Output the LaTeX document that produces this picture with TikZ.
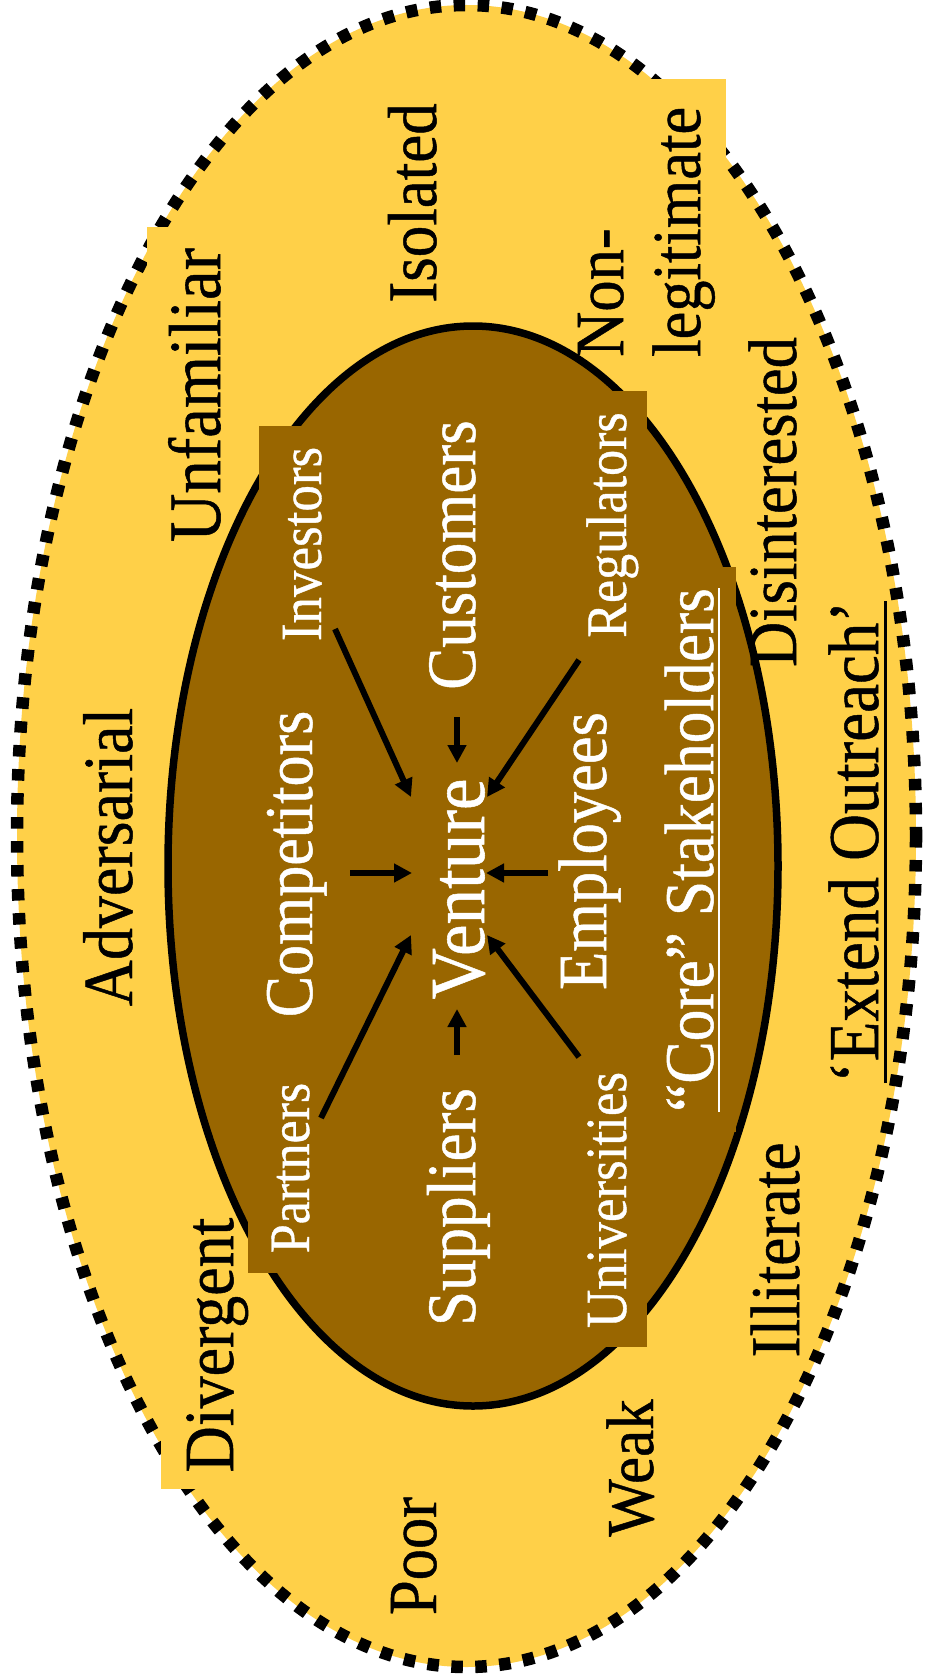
\documentclass[tikz,border=0pt]{standalone}
\usepackage{fontspec}
\setmainfont{Liberation Serif}[FakeBold=0.7]
\usetikzlibrary{arrows.meta}
\definecolor{goldfill}{RGB}{255,208,72}
\definecolor{brownfill}{RGB}{153,102,0}
\begin{document}
\begin{tikzpicture}[x=1pt,y=-1pt,
  lbl/.style={rotate=90,yscale=1.1,inner sep=0pt,anchor=base},
  sz/.style={font=\fontsize{#1}{#1}\selectfont},
  dark/.style={text=black},
  light/.style={text=white},
  pointer/.style={line width=6pt,-{Triangle[length=18pt,width=18pt]}},
]
\useasboundingbox (0,0) rectangle (931,1680);
\fill[white] (0,0) rectangle (931,1680);
% outer "extended outreach" ellipse
\path[fill=goldfill,draw=black,line width=12.5pt,dash pattern=on 11.5pt off 12.5pt]
  (466.5,836) ellipse [x radius=449.5, y radius=831];
% yellow patches behind outer labels
\fill[goldfill] (147,227) rectangle (245,560);
\fill[goldfill] (570,79) rectangle (726,365);
\fill[goldfill] (161,1200) rectangle (250,1489);
% inner "core" ellipse
\path[fill=brownfill,draw=black,line width=7.5pt]
  (473,866) ellipse [x radius=305, y radius=540];
% brown patches behind inner labels
\fill[brownfill] (259,426) rectangle (340,660);
\fill[brownfill] (575,391) rectangle (647,655);
\fill[brownfill] (655,567) rectangle (736,1132);
\fill[brownfill] (248,1060) rectangle (330,1273);
\fill[brownfill] (575,1060) rectangle (647,1347);
% outer labels
\node[lbl,sz=64,dark] (adv) at (132,857) {Adversarial};
\node[lbl,sz=67,dark] (unf) at (220,395) {Unfamiliar};
\node[lbl,sz=63,dark] (iso) at (436,203) {Isolated};
\node[lbl,sz=62.5,dark,anchor=base west] (non) at (623,357) {Non-};
\node[lbl,sz=62.5,dark,anchor=base west] (legit) at (700,357) {legitimate};
\node[lbl,sz=62.5,dark] (dis) at (796,502) {Disinterested};
\node[lbl,sz=65,dark] (ext) at (878,842) {‘Extend Outreach’};
\node[lbl,sz=63.5,dark] (ill) at (799,1250) {Illiterate};
\node[lbl,sz=61,dark] (weak) at (653,1468) {Weak};
\node[lbl,sz=62.5,dark] (poor) at (436,1556) {Poor};
\node[lbl,sz=64,dark] (div) at (233,1345) {Divergent};
\draw[line width=3pt] ([xshift=7pt]ext.base west) -- ([xshift=7pt]ext.base east);
% inner labels
\node[lbl,sz=62,light] (comp) at (312,864) {Competitors};
\node[lbl,sz=53,light] (inv) at (321,544) {Investors};
\node[lbl,sz=52,light] (part) at (309,1168) {Partners};
\node[lbl,sz=71,light] (ven) at (484,889) {Venture};
\node[lbl,sz=63,light] (cust) at (475,555) {Customers};
\node[lbl,sz=63,light] (supp) at (475,1207) {Suppliers};
\node[lbl,sz=52,light] (reg) at (626,525) {Regulators};
\node[lbl,sz=53,light] (univ) at (626,1200) {Universities};
\node[lbl,sz=62.5,light] (emp) at (606,851) {Employees};
\node[lbl,sz=63.5,light] (core) at (713,850) {“Core” Stakeholders};
\draw[white,line width=2.5pt] ([xshift=6pt]core.base west) -- ([xshift=6pt]core.base east);
% arrow end points
\coordinate (invS) at (335,629);   \coordinate (venIn) at (411,797);
\coordinate (custS) at (457,717);  \coordinate (venCu) at (457,763);
\coordinate (regS) at (579,660);   \coordinate (venRe) at (487,797);
\coordinate (compS) at (350,873);  \coordinate (venCo) at (412,873);
\coordinate (empS) at (548,873);   \coordinate (venEm) at (486,873);
\coordinate (partS) at (321,1118); \coordinate (venPa) at (411,935);
\coordinate (suppS) at (457,1055); \coordinate (venSu) at (457,1009);
\coordinate (univS) at (579,1057); \coordinate (venUn) at (487,935);
\draw[pointer] (invS) -- (venIn);
\draw[pointer] (custS) -- (venCu);
\draw[pointer] (regS) -- (venRe);
\draw[pointer] (compS) -- (venCo);
\draw[pointer] (empS) -- (venEm);
\draw[pointer] (partS) -- (venPa);
\draw[pointer] (suppS) -- (venSu);
\draw[pointer] (univS) -- (venUn);
\end{tikzpicture}
\end{document}
